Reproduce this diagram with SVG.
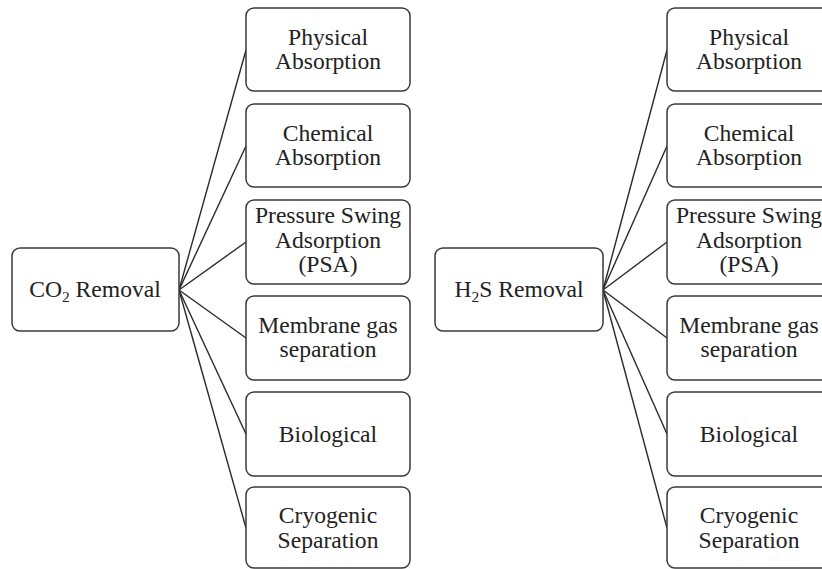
<svg xmlns="http://www.w3.org/2000/svg" width="822" height="569" viewBox="0 0 822 569">
<style>
.box{fill:#fff;stroke:#3a3a3a;stroke-width:1.5}
.t{font-family:"Liberation Serif","Times New Roman",serif;font-size:23.6px;fill:#222;text-anchor:middle}
.c line{stroke:#2a2a2a;stroke-width:1.4}
</style>
<rect width="822" height="569" fill="#fff"/>
<g class="c" id="connectors">
<line x1="179" y1="290" x2="246" y2="50"/>
<line x1="179" y1="290" x2="246" y2="146"/>
<line x1="179" y1="290" x2="246" y2="242"/>
<line x1="179" y1="290" x2="246" y2="338"/>
<line x1="179" y1="290" x2="246" y2="434"/>
<line x1="179" y1="290" x2="246" y2="528"/>
<line x1="603" y1="290" x2="667" y2="50"/>
<line x1="603" y1="290" x2="667" y2="146"/>
<line x1="603" y1="290" x2="667" y2="242"/>
<line x1="603" y1="290" x2="667" y2="338"/>
<line x1="603" y1="290" x2="667" y2="434"/>
<line x1="603" y1="290" x2="667" y2="528"/>
</g>
<g id="co2">
<rect class="box" x="12" y="248" width="167" height="83" rx="8"/>
<text class="t" x="95" y="297">CO<tspan font-size="15.5" dy="5">2</tspan><tspan dy="-5"> Removal</tspan></text>
</g>
<g id="l1"><rect class="box" x="246" y="8" width="164" height="83" rx="8"/>
<text class="t" x="328" y="45">Physical</text><text class="t" x="328" y="68.5">Absorption</text></g>
<g id="l2"><rect class="box" x="246" y="104" width="164" height="83" rx="8"/>
<text class="t" x="328" y="141">Chemical</text><text class="t" x="328" y="164.5">Absorption</text></g>
<g id="l3"><rect class="box" x="246" y="200" width="164" height="84" rx="8"/>
<text class="t" x="328" y="223">Pressure Swing</text><text class="t" x="328" y="247.5">Adsorption</text><text class="t" x="328" y="272">(PSA)</text></g>
<g id="l4"><rect class="box" x="246" y="296" width="164" height="84" rx="8"/>
<text class="t" x="328" y="333">Membrane gas</text><text class="t" x="328" y="357">separation</text></g>
<g id="l5"><rect class="box" x="246" y="392" width="164" height="84" rx="8"/>
<text class="t" x="328" y="442">Biological</text></g>
<g id="l6"><rect class="box" x="246" y="487" width="164" height="81" rx="8"/>
<text class="t" x="328" y="523">Cryogenic</text><text class="t" x="328" y="548">Separation</text></g>
<g id="h2s">
<rect class="box" x="435" y="248" width="168" height="83" rx="8"/>
<text class="t" x="519" y="297">H<tspan font-size="15.5" dy="5">2</tspan><tspan dy="-5">S Removal</tspan></text>
</g>
<g id="r1"><rect class="box" x="667" y="8" width="164" height="83" rx="8"/>
<text class="t" x="749" y="45">Physical</text><text class="t" x="749" y="68.5">Absorption</text></g>
<g id="r2"><rect class="box" x="667" y="104" width="164" height="83" rx="8"/>
<text class="t" x="749" y="141">Chemical</text><text class="t" x="749" y="164.5">Absorption</text></g>
<g id="r3"><rect class="box" x="667" y="200" width="164" height="84" rx="8"/>
<text class="t" x="749" y="223">Pressure Swing</text><text class="t" x="749" y="247.5">Adsorption</text><text class="t" x="749" y="272">(PSA)</text></g>
<g id="r4"><rect class="box" x="667" y="296" width="164" height="84" rx="8"/>
<text class="t" x="749" y="333">Membrane gas</text><text class="t" x="749" y="357">separation</text></g>
<g id="r5"><rect class="box" x="667" y="392" width="164" height="84" rx="8"/>
<text class="t" x="749" y="442">Biological</text></g>
<g id="r6"><rect class="box" x="667" y="487" width="164" height="81" rx="8"/>
<text class="t" x="749" y="523">Cryogenic</text><text class="t" x="749" y="548">Separation</text></g>
</svg>
